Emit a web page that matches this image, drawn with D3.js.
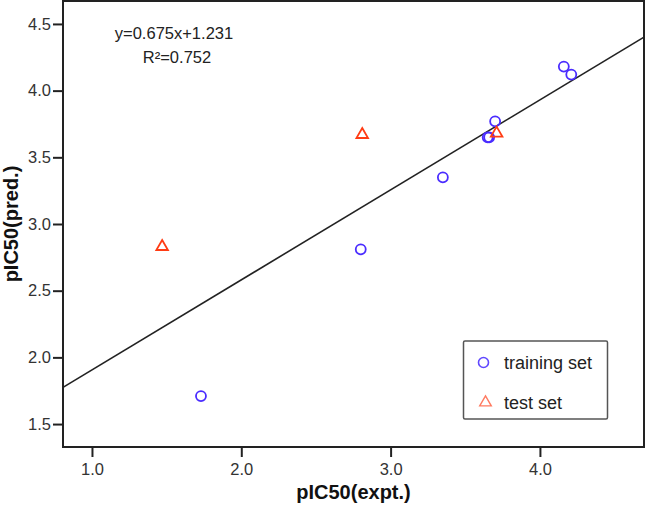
<!DOCTYPE html>
<html>
<head>
<meta charset="utf-8">
<script src="https://cdn.jsdelivr.net/npm/d3@7"></script>
<style>
  body { margin: 0; background: #fff; }
  svg { display: block; font-family: "Liberation Sans", Arial, sans-serif; }
</style>
</head>
<body>
<svg id="chart" width="646" height="509"></svg>
<script>
// training set (blue circles)
var trainX = [4.16, 4.21, 3.70, 3.65, 3.66, 3.35, 2.80, 1.73];
var trainY = [4.18, 4.12, 3.77, 3.65, 3.65, 3.35, 2.81, 1.71];
// test set (red triangles)
var testX = [2.81, 3.71, 1.47];
var testY = [3.67, 3.68, 2.83];
// fit line
var slope = 0.675, intercept = 1.231, r2 = 0.752;
var xTicks = [1.0, 2.0, 3.0, 4.0];
var yTicks = [1.5, 2.0, 2.5, 3.0, 3.5, 4.0, 4.5];

var margin = {left: 63, top: 1, right: 2, bottom: 62};
var width = 646, height = 509;
var svg = d3.select("#chart");

var x = d3.scaleLinear().domain([0.806, 4.697]).range([margin.left, width - margin.right]);
var y = d3.scaleLinear().domain([1.328, 4.672]).range([height - margin.bottom, margin.top]);

var blue = "#4a2cff", red = "#ff3c14";

// plot frame
svg.append("rect")
    .attr("x", x.range()[0]).attr("y", y.range()[1])
    .attr("width", x.range()[1] - x.range()[0])
    .attr("height", y.range()[0] - y.range()[1])
    .attr("fill", "none").attr("stroke", "#222").attr("stroke-width", 2);

// axes
var xAxis = svg.append("g")
    .attr("transform", "translate(0," + y.range()[0] + ")")
    .call(d3.axisBottom(x).tickValues(xTicks).tickFormat(d3.format(".1f")).tickSize(10).tickPadding(6));
var yAxis = svg.append("g")
    .attr("transform", "translate(" + x.range()[0] + ",0)")
    .call(d3.axisLeft(y).tickValues(yTicks).tickFormat(d3.format(".1f")).tickSize(10).tickPadding(2));
[xAxis, yAxis].forEach(function(a) {
    a.select(".domain").remove();
    a.selectAll("line").attr("stroke", "#222").attr("stroke-width", 2);
    a.selectAll("text").attr("fill", "#333").style("font-size", "16.5px")
        .style("font-family", "'Liberation Sans', Arial, sans-serif");
});

// axis titles
svg.append("text")
    .attr("x", (x.range()[0] + x.range()[1]) / 2).attr("y", 499)
    .attr("text-anchor", "middle")
    .style("font-size", "20px").style("font-weight", "bold").attr("fill", "#111")
    .text("pIC50(expt.)");
svg.append("text")
    .attr("transform", "translate(18," + (y.range()[0] + y.range()[1]) / 2 + ")rotate(-90)")
    .attr("text-anchor", "middle")
    .style("font-size", "20px").style("font-weight", "bold").attr("fill", "#111")
    .text("pIC50(pred.)");

// regression line
svg.append("clipPath").attr("id", "clip").append("rect")
    .attr("x", x.range()[0]).attr("y", y.range()[1])
    .attr("width", x.range()[1] - x.range()[0])
    .attr("height", y.range()[0] - y.range()[1]);
var xd = x.domain();
svg.append("line")
    .attr("clip-path", "url(#clip)")
    .attr("x1", x(xd[0])).attr("y1", y(slope * xd[0] + intercept))
    .attr("x2", x(xd[1])).attr("y2", y(slope * xd[1] + intercept))
    .attr("stroke", "#222").attr("stroke-width", 1.6);

// equation
svg.append("text").attr("x", 174).attr("y", 38.5).attr("text-anchor", "middle")
    .style("font-size", "16.5px").attr("fill", "#222")
    .text("y=" + slope.toFixed(3) + "x+" + intercept.toFixed(3));
svg.append("text").attr("x", 177).attr("y", 63).attr("text-anchor", "middle")
    .style("font-size", "16.5px").attr("fill", "#222")
    .text("R\u00b2=" + r2.toFixed(3));

// points
var tri = d3.symbol().type(d3.symbolTriangle).size(58);
svg.append("g").selectAll("circle")
    .data(d3.range(trainX.length))
    .enter().append("circle")
    .attr("cx", function(i) { return x(trainX[i]); })
    .attr("cy", function(i) { return y(trainY[i]); })
    .attr("r", 5)
    .attr("fill", "none").attr("stroke", blue).attr("stroke-width", 1.8);
svg.append("g").selectAll("path")
    .data(d3.range(testX.length))
    .enter().append("path")
    .attr("d", tri)
    .attr("transform", function(i) { return "translate(" + x(testX[i]) + "," + y(testY[i]) + ")"; })
    .attr("fill", "none").attr("stroke", red).attr("stroke-width", 1.8);

// legend
var lg = svg.append("g");
lg.append("rect").attr("x", 463.5).attr("y", 341).attr("width", 144).attr("height", 78)
    .attr("rx", 1.5).attr("fill", "#fff").attr("stroke", "#555").attr("stroke-width", 1.5);
lg.append("circle").attr("cx", 483.5).attr("cy", 362.5).attr("r", 5)
    .attr("fill", "none").attr("stroke", "#6048ff").attr("stroke-width", 1.6);
lg.append("path").attr("d", tri).attr("transform", "translate(485.5,402.5)")
    .attr("fill", "none").attr("stroke", "#ff7a60").attr("stroke-width", 1.4);
lg.append("text").attr("x", 504).attr("y", 368.5).style("font-size", "18px").attr("fill", "#222").text("training set");
lg.append("text").attr("x", 504).attr("y", 409).style("font-size", "18px").attr("fill", "#222").text("test set");
</script>
</body>
</html>
